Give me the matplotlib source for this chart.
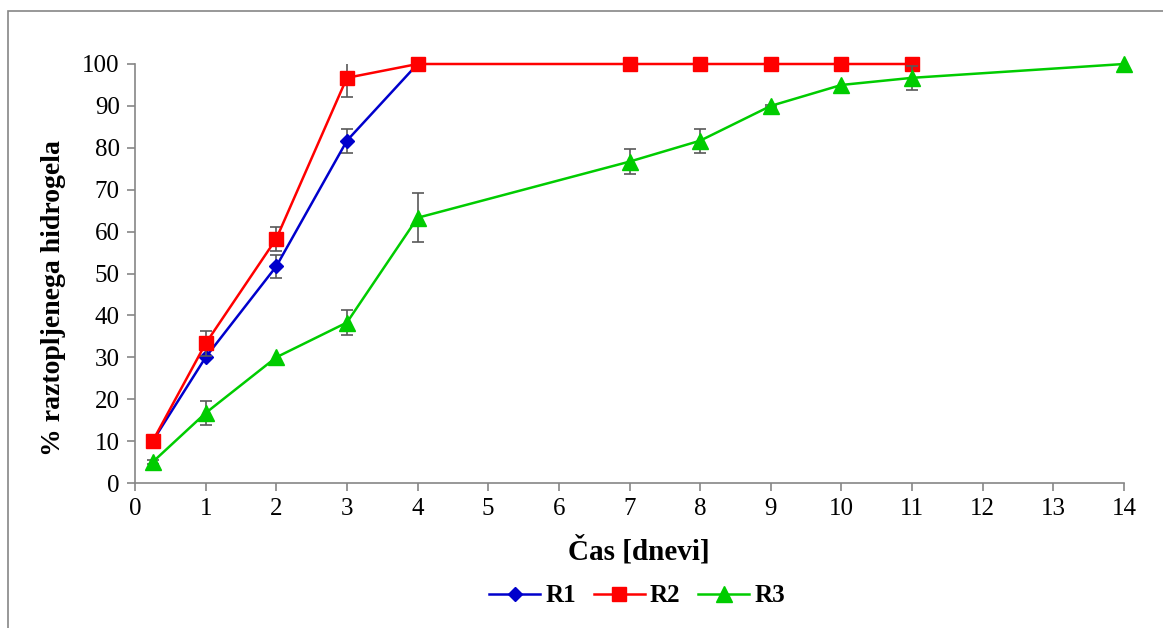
import matplotlib.pyplot as plt
from matplotlib.patches import Rectangle

# Data
days = [0.25, 1, 2, 3, 4, 7, 8, 9, 10, 11, 14]

r1_days = [0.25, 1, 2, 3, 4]
r1_vals = [10, 30, 51.7, 81.7, 100]
r1_err = [0, 0, 2.8, 2.9, 0]

r2_days = [0.25, 1, 2, 3, 4, 7, 8, 9, 10, 11]
r2_vals = [10, 33.3, 58.3, 96.7, 100, 100, 100, 100, 100, 100]
r2_err = [0, 2.9, 2.9, 4.6, 0, 0, 0, 0, 0, 0]

r3_days = days
r3_vals = [5, 16.7, 30, 38.3, 63.3, 76.7, 81.7, 90, 95, 96.7, 100]
r3_err = [0.5, 2.9, 0, 2.9, 5.8, 2.9, 2.9, 0.3, 0, 2.9, 0]

plt.rcParams['font.family'] = ['Liberation Serif', 'DejaVu Serif']

W, H = 1163, 628
fig = plt.figure(figsize=(W / 100, H / 100), dpi=100)
ax = fig.add_axes([135 / W, 1 - 483 / H, (1124 - 135) / W, (483 - 64) / H])

# outer chart border (cut off at right and bottom like the original)
fig.patches.append(Rectangle((7.5 / W, -0.05), 1.2, 1 - 10.5 / H + 0.05,
                             transform=fig.transFigure, fill=False,
                             edgecolor='#868686', linewidth=1.2))

err_kw = dict(ecolor='#595959', elinewidth=1.2, capsize=4.5, capthick=1.2)

series = [
    (r1_days, r1_vals, r1_err, '#0000CC', 'D', 7.2, 'R1'),
    (r2_days, r2_vals, r2_err, '#FF0000', 's', 10, 'R2'),
    (r3_days, r3_vals, r3_err, '#00CC00', '^', 11, 'R3'),
]
handles = []
for i, (x, y, e, c, m, ms, lab) in enumerate(series):
    # only draw bars where there is an error
    xe = [a for a, b in zip(x, e) if b > 0]
    ye = [a for a, b in zip(y, e) if b > 0]
    ee = [b for b in e if b > 0]
    ax.errorbar(xe, ye, yerr=ee, fmt='none', zorder=2 + i * 2, **err_kw)
    h, = ax.plot(x, y, color=c, marker=m, markersize=ms, linewidth=1.8,
                 markeredgecolor=c, label=lab, zorder=3 + i * 2, clip_on=False)
    handles.append(h)

ax.set_xlim(0, 14)
ax.set_ylim(0, 100)
ax.set_xticks(range(0, 15))
ax.set_yticks(range(0, 101, 10))

for s in ['top', 'right']:
    ax.spines[s].set_visible(False)
for s in ['left', 'bottom']:
    ax.spines[s].set_color('#868686')
    ax.spines[s].set_linewidth(1.2)
ax.tick_params(axis='both', direction='out', length=6, width=1.2,
               color='#868686', labelsize=18, pad=5)

fig.text(639 / W, 1 - 551 / H, 'Čas [dnevi]', fontsize=21, fontweight='bold',
         ha='center', va='center')
fig.text(54 / W, 1 - 298 / H, '% raztopljenega hidrogela', fontsize=20,
         fontweight='bold', rotation=90, ha='center', va='center')

fig.legend(handles=handles, loc='center', bbox_to_anchor=(637 / W, 1 - 596 / H),
           ncol=3, frameon=False, prop={'size': 18, 'weight': 'bold'},
           handlelength=2.05, columnspacing=0.7, handletextpad=0.2)

fig.savefig('out.png', dpi=100)
